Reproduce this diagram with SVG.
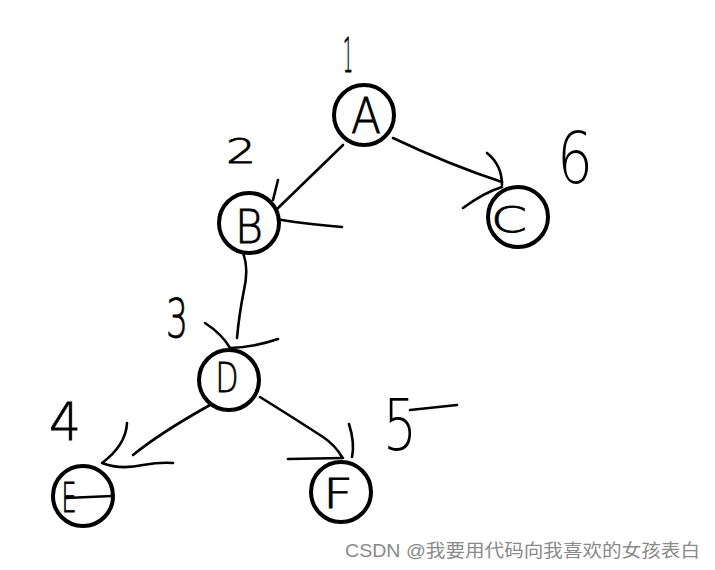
<svg xmlns="http://www.w3.org/2000/svg" width="715" height="570" viewBox="0 0 715 570">
<style>
.n{fill:#fff;stroke:#000;stroke-width:4}
.s{fill:none;stroke:#000;stroke-width:2.6;stroke-linecap:round;stroke-linejoin:round}
.l,.num{font-family:"DejaVu Sans",sans-serif;fill:#000;stroke:#000;stroke-width:0.8;text-anchor:middle;font-weight:300}
.big{font-family:"DejaVu Sans",sans-serif;fill:#000;text-anchor:middle;font-weight:200}
.wm{font-family:"Liberation Sans","Noto Sans CJK SC",sans-serif;font-size:18px;fill:#8a8a8a}
</style>
<rect width="715" height="570" fill="#fff"/>
<g id="connectors">
<path class="s" d="M343,145 L276,210"/>
<path class="s" d="M278,180 L273,200 M268,217 Q285,222 342,227"/>
<path class="s" d="M393,138 Q450,165 502,182"/>
<path class="s" d="M487,153 Q502,165 502,185 M463,208 Q485,192 502,187"/>
<path class="s" d="M243,253 Q249,268 244,290 Q239,315 237,338"/>
<path class="s" d="M205,323 Q222,334 230,348 Q255,347 278,339"/>
<path class="s" d="M210,405 Q160,433 133,455"/>
<path class="s" d="M127,423 Q126,445 102,463 Q120,470 143,465 Q160,462 173,463"/>
<path class="s" d="M260,397 Q300,422 323,437 Q335,445 342,457"/>
<path class="s" d="M349,424 Q355,443 352,457 M288,459 L343,458"/>
<path class="s" d="M410,410 L457,405"/>
</g>
<g id="node-A"><circle class="n" cx="364" cy="115" r="30"/><text class="l" x="366" y="133" font-size="50" textLength="30" lengthAdjust="spacingAndGlyphs">A</text></g>
<g id="node-B"><circle class="n" cx="249" cy="223" r="30"/><text class="l" x="249" y="243" font-size="46" textLength="28" lengthAdjust="spacingAndGlyphs">B</text></g>
<g id="node-C"><circle class="n" cx="518" cy="217" r="30"/><text class="l" x="509" y="232" font-size="36" textLength="36" lengthAdjust="spacingAndGlyphs">C</text></g>
<g id="node-D"><circle class="n" cx="229" cy="380" r="30"/><text class="l" x="227" y="392" font-size="41" textLength="23" lengthAdjust="spacingAndGlyphs">D</text></g>
<g id="node-E"><circle class="n" cx="83" cy="496" r="30"/><text class="l" x="69" y="512" font-size="40" textLength="15" lengthAdjust="spacingAndGlyphs">E</text><path class="s" d="M66,498 L112,496"/></g>
<g id="node-F"><circle class="n" cx="341" cy="492" r="30"/><text class="l" x="338" y="508" font-size="41" textLength="30" lengthAdjust="spacingAndGlyphs">F</text></g>
<g id="labels">
<text class="num" x="348" y="72" font-size="48" stroke-width="1.6" textLength="10" lengthAdjust="spacingAndGlyphs">1</text>
<text class="num" x="241" y="163" font-size="34" textLength="30" lengthAdjust="spacingAndGlyphs">2</text>
<text class="num" x="177" y="337" font-size="53" textLength="22" lengthAdjust="spacingAndGlyphs">3</text>
<text class="num" x="65" y="440" font-size="51" textLength="32" lengthAdjust="spacingAndGlyphs">4</text>
<text class="big" x="400" y="450" font-size="72" textLength="34" lengthAdjust="spacingAndGlyphs">5</text>
<text class="big" x="575" y="183" font-size="72" textLength="36" lengthAdjust="spacingAndGlyphs">6</text>
</g>
<text class="wm" x="345" y="557" textLength="355" lengthAdjust="spacingAndGlyphs">CSDN @我要用代码向我喜欢的女孩表白</text>
</svg>
